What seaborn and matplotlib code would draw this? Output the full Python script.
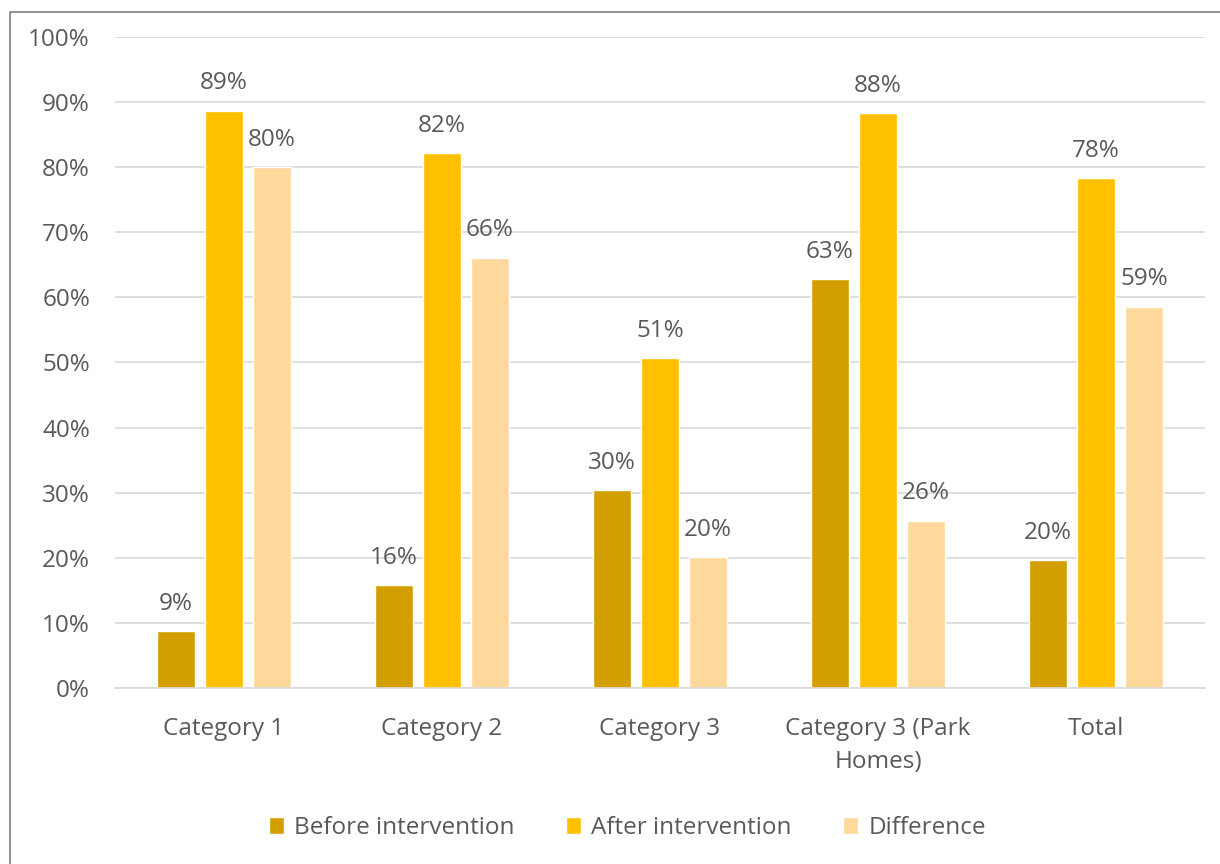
import matplotlib
matplotlib.use('Agg')
import matplotlib.pyplot as plt
import seaborn as sns
import pandas as pd
from matplotlib.lines import Line2D
from matplotlib.ticker import PercentFormatter

# data
categories = ['Category 1', 'Category 2', 'Category 3', 'Category 3 (Park\nHomes)', 'Total']
before = [0.087, 0.158, 0.304, 0.628, 0.196]
after = [0.887, 0.822, 0.507, 0.883, 0.783]
difference = [0.800, 0.661, 0.201, 0.257, 0.586]
series = ['Before intervention', 'After intervention', 'Difference']
colors = ['#D29E00', '#FFC000', '#FFD89C']

df = pd.DataFrame({'category': categories,
                   series[0]: before,
                   series[1]: after,
                   series[2]: difference})
df = df.melt(id_vars='category', var_name='series', value_name='value')

sns.set_theme(style='white')
plt.rcParams['font.family'] = ['Open Sans', 'DejaVu Sans']

text_col = '#595959'
grid_col = '#D9D9D9'
fs = 17.5

fig = plt.figure(figsize=(12.2, 8.64), dpi=100)
ax = fig.add_axes([0.0943, 0.2037, 0.8934, 0.7535])

sns.barplot(data=df, x='category', y='value', hue='series', hue_order=series,
            palette=colors, saturation=1, width=0.66, gap=0.2, ax=ax)

ax.set_ylim(0, 1)
ax.set_yticks([i / 10 for i in range(11)])
ax.yaxis.set_major_formatter(PercentFormatter(1, decimals=0))
ax.yaxis.grid(True, color=grid_col, lw=1.2)
ax.set_axisbelow(True)
for s in ['left', 'right', 'top']:
    ax.spines[s].set_visible(False)
ax.spines['bottom'].set_color(grid_col)
ax.spines['bottom'].set_linewidth(1.2)
ax.tick_params(axis='both', length=0, labelcolor=text_col, labelsize=fs)
ax.tick_params(axis='y', pad=18)
ax.tick_params(axis='x', pad=21)
for lbl in ax.get_xticklabels():
    lbl.set_linespacing(1.5)
ax.set_xlabel('')
ax.set_ylabel('')

for c in ax.containers:
    ax.bar_label(c, labels=[f'{b.get_height() * 100:.0f}%' for b in c],
                 padding=11, color=text_col, fontsize=fs)

handles, labels = ax.get_legend_handles_labels()
ax.legend(handles, labels, loc='center', bbox_to_anchor=(0.514, 0.0417),
          bbox_transform=fig.transFigure, ncol=3, frameon=False,
          handlelength=0.65, handleheight=0.65, handletextpad=0.4,
          columnspacing=2.1, fontsize=fs, labelcolor=text_col)

# outer border (left and top only visible)
x0 = 10 / 1220
y0 = 1 - 12 / 864
fig.add_artist(Line2D([x0, x0, 1], [0, y0, y0], transform=fig.transFigure,
                      color='#7F7F7F', lw=1.2))

fig.savefig('out.png', dpi=100)
